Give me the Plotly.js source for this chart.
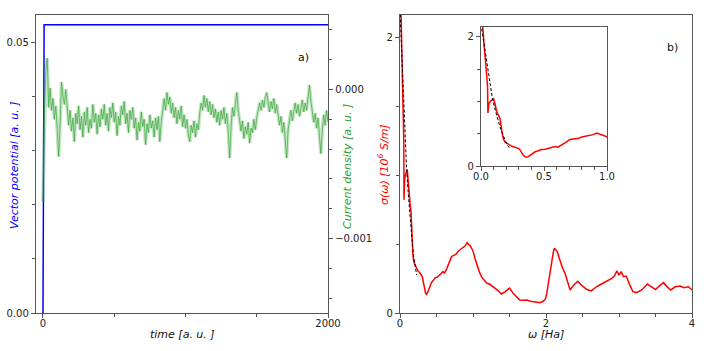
<!DOCTYPE html>
<html>
<head>
<meta charset="utf-8">
<script src="https://cdn.plot.ly/plotly-3.0.1.min.js"></script>
<style>html,body{margin:0;padding:0;background:#fff;}#chart{width:706px;height:351px;}</style>
</head>
<body>
<div id="chart"></div>
<script>
// ---- Panel a) data ----
const timeA = [0, 8, 2000];
const vectorPotential = [0, 0.0532, 0.0532];

const timeJ = [];
for (let t = 0; t <= 2000; t += 10) timeJ.push(t);
// current density in units of 1e-4 a.u., one value per 10 a.u. of time
const currentE4 = [
 -7.5,-1.5,1.2,2.1,-1.2,0.1,-1.4,-0.6,-2.0,-1.1,
 -2.6,-4.5,-2.4,0.5,-0.4,-1.0,0.0,-1.5,-2.4,-1.4,
 -2.8,-1.9,-3.5,-1.6,-2.3,-1.1,-2.7,-1.8,-3.2,-1.5,
 -2.4,-1.2,-2.9,-2.0,-2.6,-1.0,-2.2,-1.6,-3.0,-1.7,
 -2.5,-1.3,-2.0,-1.0,-2.4,-1.6,-2.8,-1.2,-1.9,-0.9,
 -2.2,-1.5,-3.1,-1.8,-2.4,-1.1,-1.7,-0.8,-2.3,-1.6,
 -2.9,-1.4,-2.0,-1.2,-2.6,-1.9,-3.4,-2.2,-2.8,-1.5,
 -2.5,-2.0,-3.7,-2.3,-2.9,-1.7,-2.6,-2.1,-3.2,-1.9,
 -2.7,-1.8,-3.5,-2.2,-1.5,-0.6,-1.4,-0.2,-1.0,-0.5,
 -1.6,-0.9,-1.9,-1.2,-2.3,-1.4,-2.0,-1.1,-2.5,-1.7,
 -2.6,-2.0,-3.0,-3.5,-2.4,-2.9,-2.1,-3.2,-2.3,-2.7,
 -1.6,-0.9,-1.4,-0.4,-1.2,-0.6,-1.5,-0.8,-1.7,-1.0,
 -1.9,-1.3,-2.2,-1.5,-2.4,-1.4,-2.0,-1.2,-2.3,-1.6,
 -2.8,-4.6,-2.5,-1.2,-1.8,-0.8,-0.2,-1.4,-2.2,-2.8,
 -2.1,-3.3,-2.5,-3.0,-2.2,-3.6,-2.6,-2.9,-2.0,-2.7,
 -1.9,-1.5,-0.9,-1.4,-0.7,-1.2,-0.5,-0.2,-1.0,-1.5,
 -0.8,-1.3,-0.6,-1.6,-1.0,-1.9,-2.4,-1.8,-2.9,-2.2,
 -3.3,-4.6,-2.7,-2.0,-1.4,-2.1,-1.3,-0.9,-1.6,-1.0,
 -1.8,-1.2,-0.7,-1.5,-0.9,-1.4,-0.6,0.3,-0.8,-1.5,
 -2.2,-1.6,-2.6,-1.9,-3.4,-4.3,-2.8,-1.7,-2.4,-1.4,
 -2.2
];
const currentDensity = currentE4.map(v => v * 1e-4);

// ---- Panel b) data ----
const omega = [0.005,0.013,0.025,0.035,0.045,0.052,0.055,0.063,0.075,0.085,0.100,0.110,0.125,0.140,0.150,0.165,0.177,0.190,0.204,0.225,0.244,0.265,0.283,0.300,0.310,0.325,0.335,0.350,0.360,0.375,0.390,0.410,0.430,0.455,0.480,0.510,0.535,0.560,0.587,0.610,0.640,0.670,0.706,0.746,0.775,0.800,0.830,0.865,0.890,0.920,0.940,0.960,0.980,1.000,1.025,1.050,1.085,1.120,1.155,1.190,1.225,1.255,1.300,1.345,1.390,1.440,1.500,1.550,1.600,1.640,1.690,1.740,1.790,1.830,1.880,1.920,1.960,1.990,2.010,2.030,2.055,2.080,2.100,2.115,2.135,2.155,2.180,2.200,2.230,2.260,2.290,2.330,2.375,2.435,2.490,2.560,2.620,2.690,2.760,2.830,2.900,2.940,2.970,3.000,3.030,3.060,3.100,3.150,3.190,3.240,3.310,3.390,3.450,3.500,3.550,3.610,3.650,3.710,3.770,3.840,3.890,3.950,4.000];
const sigma = [2.40,2.13,1.85,1.64,1.42,1.23,0.82,0.97,1.00,1.02,1.04,0.97,0.84,0.78,0.74,0.55,0.42,0.37,0.35,0.33,0.305,0.295,0.285,0.27,0.25,0.20,0.165,0.145,0.135,0.145,0.165,0.19,0.22,0.235,0.255,0.26,0.27,0.285,0.30,0.29,0.32,0.36,0.41,0.42,0.43,0.45,0.46,0.475,0.485,0.51,0.495,0.49,0.47,0.45,0.40,0.35,0.30,0.26,0.235,0.215,0.21,0.20,0.18,0.16,0.138,0.155,0.18,0.143,0.115,0.094,0.092,0.094,0.085,0.082,0.078,0.075,0.085,0.099,0.14,0.215,0.30,0.384,0.44,0.47,0.46,0.445,0.40,0.36,0.32,0.29,0.23,0.167,0.20,0.23,0.20,0.17,0.16,0.19,0.21,0.23,0.25,0.27,0.306,0.275,0.30,0.263,0.268,0.20,0.155,0.148,0.167,0.21,0.19,0.17,0.195,0.22,0.195,0.167,0.19,0.195,0.183,0.19,0.167];
const omegaFit = [0, 0.02, 0.034, 0.05, 0.074, 0.09, 0.113, 0.13, 0.15, 0.17, 0.19, 0.21, 0.228];
const sigmaFit = [2.2, 1.95, 1.74, 1.52, 1.23, 1.05, 0.865, 0.74, 0.61, 0.50, 0.40, 0.32, 0.275];

// ---- layout helpers ----
const W = 706, H = 351;
const fx = p => p / W;
const fy = p => 1 - p / H;
const FONT = 'DejaVu Sans, Liberation Sans, sans-serif';
const frame = '#555';
const tickF = {family: FONT, size: 10, color: '#222'};

function ax(extra) {
  return Object.assign({
    showline: true, linecolor: frame, linewidth: 1.2,
    ticks: 'outside', ticklen: 4, tickcolor: frame, tickwidth: 1,
    showgrid: false, zeroline: false, tickfont: tickF, fixedrange: true
  }, extra);
}
function note(text, x, y, color, angle) {
  return {text: text, x: fx(x), y: fy(y), xref: 'paper', yref: 'paper',
    xanchor: 'center', yanchor: 'middle', textangle: angle || 0, showarrow: false,
    font: {family: FONT, size: 11, color: color}};
}

const traces = [
  {x: timeA, y: vectorPotential, xaxis: 'x', yaxis: 'y', mode: 'lines',
   line: {color: '#0000ff', width: 1.5}, hoverinfo: 'skip'},
  {x: timeJ, y: currentDensity, xaxis: 'x', yaxis: 'y2', mode: 'lines',
   line: {color: 'rgba(44,160,44,0.28)', width: 3.5}, hoverinfo: 'skip'},
  {x: timeJ, y: currentDensity, xaxis: 'x', yaxis: 'y2', mode: 'lines',
   line: {color: 'rgba(44,160,44,0.9)', width: 0.7}, hoverinfo: 'skip'},
  {x: omega, y: sigma, xaxis: 'x3', yaxis: 'y3', mode: 'lines',
   line: {color: '#ff0000', width: 1.5}, hoverinfo: 'skip'},
  {x: omegaFit, y: sigmaFit, xaxis: 'x3', yaxis: 'y3', mode: 'lines',
   line: {color: '#000', width: 1, dash: '3px,2px'}, hoverinfo: 'skip'},
  {x: omega, y: sigma, xaxis: 'x4', yaxis: 'y4', mode: 'lines',
   line: {color: '#ff0000', width: 1.5}, hoverinfo: 'skip'},
  {x: omegaFit, y: sigmaFit, xaxis: 'x4', yaxis: 'y4', mode: 'lines',
   line: {color: '#000', width: 1, dash: '3px,2px'}, hoverinfo: 'skip'}
];

const vDom = [fy(313), fy(15)];
const layout = {
  width: W, height: H, margin: {l: 0, r: 0, t: 0, b: 0},
  paper_bgcolor: '#fff', plot_bgcolor: 'rgba(0,0,0,0)',
  showlegend: false, font: {family: FONT},
  xaxis: ax({domain: [fx(36), fx(328)], range: [-49, 2000], anchor: 'y', mirror: true,
    tickmode: 'array', tickvals: [0, 2000], ticktext: ['0', '2000'], ticklabelstandoff: -3,
    minor: {tickmode: 'linear', tick0: 0, dtick: 500, ticks: 'outside', ticklen: 2.5, tickcolor: frame}}),
  yaxis: ax({domain: vDom, range: [0, 0.055], anchor: 'x', mirror: true,
    tickmode: 'array', tickvals: [0, 0.05], ticktext: ['0.00', '0.05'],
    minor: {tickmode: 'linear', tick0: 0, dtick: 0.01, ticks: 'outside', ticklen: 2.5, tickcolor: frame}}),
  yaxis2: ax({overlaying: 'y', side: 'right', anchor: 'x', range: [-0.0015, 0.0005],
    tickmode: 'array', tickvals: [0, -0.001], ticktext: ['0.000', '\u22120.001'],
    minor: {tickmode: 'linear', tick0: 0, dtick: 0.0002, ticks: 'outside', ticklen: 2.5, tickcolor: frame}}),
  xaxis3: ax({domain: [fx(400), fx(692)], range: [0, 4], anchor: 'y3', mirror: true,
    tickmode: 'array', tickvals: [0, 2, 4], ticklabelstandoff: -3,
    minor: {tickmode: 'linear', tick0: 0, dtick: 0.5, ticks: 'outside', ticklen: 2.5, tickcolor: frame}}),
  yaxis3: ax({domain: vDom, range: [0, 2.16], anchor: 'x3', mirror: true,
    tickmode: 'array', tickvals: [0, 2],
    minor: {tickmode: 'linear', tick0: 0, dtick: 0.5, ticks: 'outside', ticklen: 2.5, tickcolor: frame}}),
  xaxis4: ax({domain: [fx(481), fx(607)], range: [0, 1], anchor: 'y4', mirror: true,
    tickmode: 'array', tickvals: [0, 0.5, 1], ticktext: ['0.0', '0.5', '1.0'], ticklabelstandoff: -3,
    minor: {tickmode: 'linear', tick0: 0, dtick: 0.1, ticks: 'outside', ticklen: 2.5, tickcolor: frame}}),
  yaxis4: ax({domain: [fy(166), fy(27)], range: [0, 2.15], anchor: 'x4', mirror: true,
    tickmode: 'array', tickvals: [0, 2],
    minor: {tickmode: 'linear', tick0: 0, dtick: 0.5, ticks: 'outside', ticklen: 2.5, tickcolor: frame}}),
  annotations: [
    note('<i>Vector potential [a. u. ]</i>', 15, 166, '#0000ff', -90),
    note('<i>Current density [a. u. ]</i>', 347, 167, '#2ca02c', -90),
    note('<i>time [a. u. ]</i>', 182, 334, '#111'),
    note('<i>\u03c9 [Ha]</i>', 546, 334, '#111'),
    note('<i>\u03c3(\u03c9) [10<sup>6</sup> S/m]</i>', 383, 165, '#ff0000', -90),
    note('a)', 303, 58, '#111'),
    note('b)', 672, 47, '#111')
  ]
};

Plotly.newPlot('chart', traces, layout, {staticPlot: true, displayModeBar: false});
</script>
</body>
</html>
